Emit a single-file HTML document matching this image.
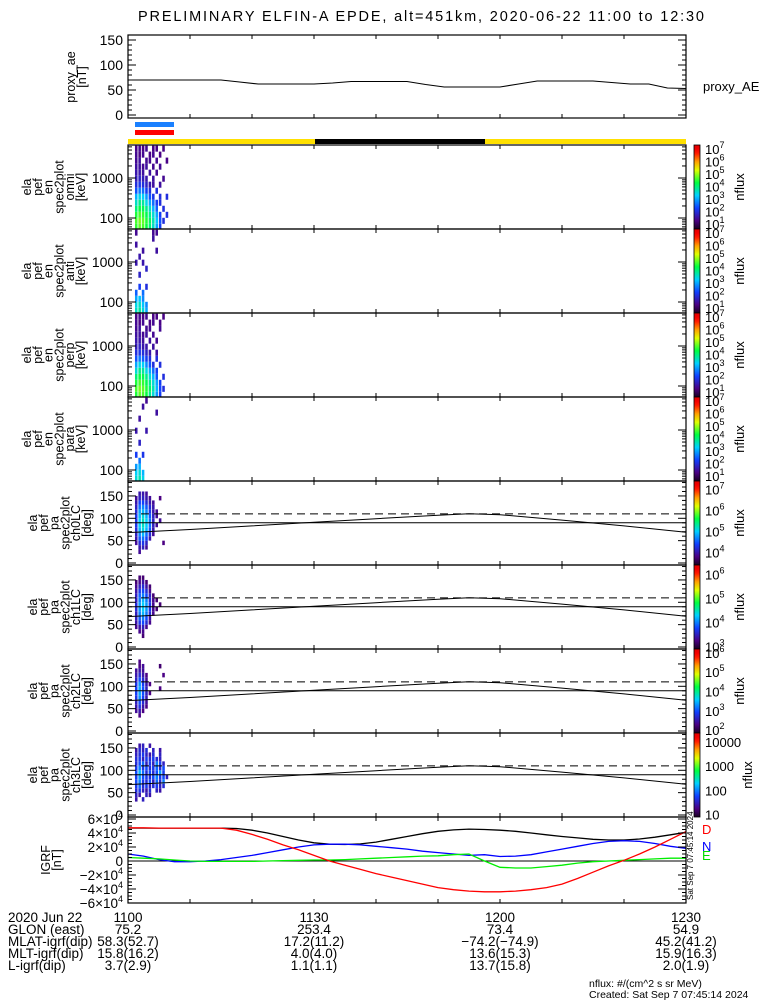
<!DOCTYPE html>
<html><head><meta charset="utf-8"><style>
html,body{margin:0;padding:0;background:#fff;}
svg{display:block;font-family:"Liberation Sans",sans-serif;}
</style></head><body>
<svg id="root" width="775" height="1000" viewBox="0 0 775 1000" xmlns="http://www.w3.org/2000/svg">
<rect x="0" y="0" width="775" height="1000" fill="#fff"/>
<text x="421" y="21" text-anchor="middle" font-size="14.5" textLength="566" lengthAdjust="spacing">PRELIMINARY ELFIN-A EPDE, alt=451km, 2020-06-22 11:00 to 12:30</text>
<rect x="135" y="122" width="39" height="5" fill="#1a80ff"/>
<rect x="135" y="130" width="39" height="5" fill="#ff0000"/>
<rect x="128" y="139" width="558" height="5" fill="#ffe000"/>
<rect x="315" y="139" width="170" height="5" fill="#000"/>
<g id="layer"></g>
<g font-size="13.5">
<text x="8" y="922">2020 Jun 22</text>
<text x="8" y="934">GLON (east)</text>
<text x="8" y="946">MLAT-igrf(dip)</text>
<text x="8" y="958">MLT-igrf(dip)</text>
<text x="8" y="970">L-igrf(dip)</text>
<g text-anchor="middle">
<text x="128" y="922">1100</text><text x="314" y="922">1130</text><text x="500" y="922">1200</text><text x="686" y="922">1230</text>
<text x="128" y="934">75.2</text><text x="314" y="934">253.4</text><text x="500" y="934">73.4</text><text x="686" y="934">54.9</text>
<text x="128" y="946">58.3(52.7)</text><text x="314" y="946">17.2(11.2)</text><text x="500" y="946">−74.2(−74.9)</text><text x="686" y="946">45.2(41.2)</text>
<text x="128" y="958">15.8(16.2)</text><text x="314" y="958">4.0(4.0)</text><text x="500" y="958">13.6(15.3)</text><text x="686" y="958">15.9(16.3)</text>
<text x="128" y="970">3.7(2.9)</text><text x="314" y="970">1.1(1.1)</text><text x="500" y="970">13.7(15.8)</text><text x="686" y="970">2.0(1.9)</text>
</g></g>
<text x="589" y="987" font-size="10.5">nflux: #/(cm^2 s sr MeV)</text>
<text x="589" y="998" font-size="10.5">Created: Sat Sep  7 07:45:14 2024</text>
<text transform="translate(693,900) rotate(-90)" font-size="8">Sat Sep  7 07:45:14 2024</text>
<text x="702" y="834" font-size="13" fill="#ff0000">D</text>
<text x="702" y="851" font-size="13" fill="#0000ff">N</text>
<text x="702" y="860" font-size="13" fill="#00dd00">E</text>
<text x="703" y="91" font-size="13">proxy_AE</text>
</svg>
<script>
// ---------- data ----------
const aeTimes=[0,15,18,21,30,33,36,45,48,51,60,63,66,75,78,81,84,87,90];
const aeValues=[70,70,66,62,62,64,67,67,61,56,56,62,68,68,65,62,62,54,53];
const specTimes=[1.4,1.95,2.5,3.05,3.6,4.15,4.7,5.25,5.8,6.35];
const energies=[60,85,120,170,240,340,480,680,960,1360,1920,2720,3840,5420];
const omniFlux=[
[4.5,4.7,4.6,4.3,4.0,3.6,3.0,2.2,0,0],[4.6,4.8,4.7,4.4,4.1,3.7,3.2,2.4,2.0,0],[4.4,4.6,4.5,4.2,3.9,3.5,3.0,2.2,0,2.0],
[4.0,4.3,4.2,3.9,3.6,3.1,2.5,0,2.0,0],[3.6,3.9,3.8,3.4,3.0,2.6,2.2,2.0,0,0],[3.1,3.4,3.3,2.9,2.4,2.1,0,2.0,0,2.0],
[2.4,2.7,2.6,2.2,2.0,0,2.0,0,0,0],[2.0,2.1,2.0,1.8,1.6,1.5,0,1.5,0,0],[1.7,1.8,1.7,1.6,0,1.5,0,0,1.4,0],
[1.6,1.6,1.5,0,1.5,0,1.4,0,0,0],[1.5,1.5,1.4,1.5,0,1.4,0,1.4,0,0],[1.4,1.5,0,1.4,1.4,0,1.4,0,0,1.3],
[1.4,1.3,1.4,0,1.3,1.4,0,1.3,0,0],[1.3,1.4,1.3,1.4,0,1.3,1.3,0,1.3,0]];
const antFlux=[
[3.6,3.8,3.5,3.0,0,0,0,0,0,0],[3.4,3.6,3.2,2.8,0,0,0,0,0,0],[3.0,3.2,2.8,0,0,0,0,0,0,0],
[2.5,0,2.6,0,0,0,0,0,0,0],[0,2.2,0,2.0,0,0,0,0,0,0],[0,0,0,0,0,0,0,0,0,0],
[0,1.8,0,0,0,0,0,0,0,0],[0,0,0,1.8,0,0,0,0,0,0],[1.6,0,1.6,0,0,0,0,0,0,0],
[0,1.6,0,0,0,0,0,0,0,0],[0,0,1.5,0,0,0,1.5,0,0,0],[1.5,0,0,0,0,0,0,0,0,0],
[0,0,0,0,0,1.5,0,0,0,0],[1.4,0,0,0,0,1.4,1.4,0,0,0]];
const perpFlux=[
[4.4,4.7,4.6,4.3,3.9,3.5,2.9,2.2,0,0],[4.6,4.8,4.7,4.4,4.1,3.7,3.1,2.3,2.0,0],[4.4,4.6,4.5,4.2,3.9,3.5,3.0,2.2,0,0],
[4.0,4.3,4.2,3.9,3.5,3.1,2.4,0,2.0,0],[3.5,3.9,3.8,3.4,3.0,2.6,2.2,0,0,0],[3.0,3.4,3.3,2.8,2.4,2.0,0,2.0,0,0],
[2.4,2.7,2.5,2.2,2.0,0,2.0,0,0,0],[2.0,2.1,2.0,1.8,1.6,0,1.5,0,0,0],[1.7,1.8,1.6,1.6,0,1.5,0,0,0,0],
[1.6,1.6,1.5,0,1.5,0,1.4,0,0,0],[1.5,1.5,1.4,1.5,0,1.4,0,0,0,0],[1.4,1.5,0,1.4,1.4,0,0,1.4,0,0],
[1.4,1.3,1.4,0,1.3,1.4,0,1.3,0,0],[1.3,1.4,1.3,1.4,0,1.3,1.3,0,1.3,0]];
const paraFlux=[
[3.5,3.7,3.4,0,0,0,0,0,0,0],[3.3,3.5,3.1,0,0,0,0,0,0,0],[2.9,3.1,0,0,0,0,0,0,0,0],
[0,2.6,0,0,0,0,0,0,0,0],[2.2,0,2.1,0,0,0,0,0,0,0],[0,0,0,0,0,0,0,0,0,0],
[0,1.8,0,0,0,0,0,0,0,0],[0,0,0,0,0,0,0,0,0,0],[1.6,0,0,1.6,0,0,0,0,0,0],
[0,0,0,0,0,0,0,0,0,0],[0,1.5,0,0,0,0,0,0,0,0],[0,0,0,0,0,0,1.5,0,0,0],
[0,0,1.5,0,0,0,0,0,0,0],[0,0,0,1.4,0,0,0,0,0,0]];
const pitchAngles=[25,35,45,55,65,75,85,95,105,115,125,135,145,155];
const ch0Flux=[
[0,3.9,0,0,0,0,0,0,0,0],[0,4.0,4.1,3.9,0,0,0,0,0,0],[3.9,4.2,4.3,4.1,0,0,0,0,3.8,0],
[4.0,4.5,4.6,4.4,4.0,0,0,0,0,0],[4.1,4.7,4.9,4.6,4.2,3.9,0,0,0,0],[4.2,4.9,5.1,4.9,4.5,4.0,0,0,0,0],
[4.3,5.0,5.2,5.0,4.6,4.1,3.9,0,0,0],[4.3,5.0,5.2,5.0,4.6,4.1,0,3.9,0,0],[4.3,4.9,5.1,4.9,4.5,4.1,3.9,0,0,0],
[4.2,4.8,4.9,4.7,4.3,4.0,3.9,0,0,0],[4.1,4.6,4.7,4.5,4.2,4.0,0,0,0,0],[4.0,4.4,4.4,4.2,4.0,3.9,0,0,0,0],
[3.9,4.1,4.1,4.0,3.9,0,0,3.8,0,0],[0,4.0,4.0,3.9,0,0,0,0,0,0]];
const ch1Flux=[
[0,0,3.2,0,0,0,0,0,0,0],[0,3.3,3.3,0,0,0,0,0,0,0],[3.3,3.4,3.5,3.3,0,0,0,0,0,0],
[3.4,3.7,3.8,3.6,3.3,0,0,0,0,0],[3.5,3.9,4.0,3.8,3.4,0,0,0,0,0],[3.5,4.0,4.2,4.0,3.6,3.3,0,0,0,0],
[3.6,4.1,4.3,4.1,3.7,3.3,3.2,0,0,0],[3.6,4.1,4.3,4.1,3.7,3.3,0,3.2,0,0],[3.5,4.0,4.2,4.0,3.6,3.3,3.2,0,0,0],
[3.5,3.9,4.0,3.8,3.5,3.2,0,0,0,0],[3.4,3.7,3.8,3.6,3.3,0,0,0,0,0],[3.3,3.5,3.6,3.4,3.2,0,0,0,0,0],
[3.2,3.3,3.4,3.2,0,0,0,0,0,0],[0,3.2,3.2,0,0,0,0,0,0,0]];
const ch2Flux=[
[0,0,0,0,0,0,0,0,0,0],[0,2.3,0,0,0,0,0,0,0,0],[2.4,2.5,2.3,0,0,0,0,0,0,0],
[2.5,2.8,2.5,2.3,0,0,0,0,0,0],[2.6,3.0,2.7,2.4,0,0,0,0,0,0],[2.8,3.3,2.9,2.5,0,0,0,0,0,0],
[2.9,3.4,3.0,2.6,2.3,0,0,0,0,0],[2.9,3.4,3.0,2.6,0,0,0,2.3,0,0],[2.8,3.3,2.9,2.5,2.3,0,0,0,0,0],
[2.6,3.0,2.7,2.4,0,0,0,0,0,0],[2.5,2.7,2.5,2.3,0,0,0,0,2.3,0],[2.4,2.5,2.4,0,0,0,0,0,0,0],
[0,2.3,2.4,0,0,0,0,2.2,0,0],[0,2.3,0,0,0,0,0,0,0,0]];
const ch3Flux=[
[0,0,0,0,0,0,0,0,0,0],[1.4,0,1.5,0,0,0,0,0,0,0],[1.5,1.4,0,1.5,1.4,0,0,0,0,0],
[1.6,1.7,1.5,1.4,1.6,0,1.5,1.4,0,0],[1.7,1.9,1.6,1.7,1.5,1.6,1.7,1.5,1.6,0],[1.8,2.0,1.7,1.6,1.8,1.5,1.9,1.6,2.0,0],
[1.7,2.1,1.8,1.7,1.6,1.8,2.0,1.7,1.8,1.5],[1.8,2.2,1.9,1.6,1.8,1.6,1.8,2.1,1.7,0],[1.7,2.0,1.7,1.8,1.6,1.7,1.9,1.6,1.8,0],
[1.6,1.8,1.9,1.5,1.7,1.5,2.0,1.7,1.5,0],[1.6,1.7,1.5,1.7,1.6,1.7,1.6,1.5,0,0],[1.5,1.6,1.7,1.5,1.4,1.6,0,1.5,0,0],
[1.4,1.6,1.5,1.6,0,1.5,0,1.4,0,0],[0,1.4,1.5,0,1.4,0,0,0,0,0]];
const lossConeTimes=[0,10,20,30,40,50,55,60,70,80,90];
const lossConeValues=[68,75,83,91,99,107,110,108,96,83,69];
const antiLossConeValue=110;
const perpValue=90;
const igrfTimes=[0,2.5,5,7.5,10,12.5,15,17.5,20,22.5,25,27.5,30,32.5,35,37.5,40,42.5,45,47.5,50,52.5,55,57.5,60,62.5,65,67.5,70,72.5,75,77.5,80,82.5,85,87.5,90];
const igrfTotal=[47000,47000,47000,47000,47000,47000,47000,46500,44000,40000,35000,30000,26000,24000,23500,24500,27000,31000,35000,39000,42500,44500,45500,45000,44000,42500,40000,37500,35000,33000,31000,30000,30000,31500,34000,37500,41000];
const igrfD=[47500,47500,47000,47000,47000,47000,47000,44000,38000,31000,23000,16000,8000,0,-6000,-12000,-18000,-23000,-28000,-33000,-38000,-41000,-43000,-44000,-44000,-43000,-41000,-38000,-33000,-25000,-16000,-7000,1000,10000,20000,31000,42000];
const igrfN=[10000,7000,2000,-1000,-1000,0,2000,5000,8000,12000,16000,20000,23000,24000,24000,23000,21000,19000,17000,14000,12000,10000,8000,9000,6500,7000,9000,13000,17000,21000,25000,28000,29000,28000,25000,21000,18000];
const igrfE=[5000,4000,3000,1500,0,-500,-500,-500,-500,0,500,1000,1500,1500,2000,3000,4000,5000,6000,7000,7500,9000,10000,0,-9000,-10000,-10000,-8000,-6000,-3000,-1000,0,1000,2000,3000,4000,4000];
const aeTicks=[0,50,100,150];
const energyTicks=[100,1000];
const pitchTicks=[0,50,100,150];
const igrfTicks=[-60000,-40000,-20000,0,20000,40000,60000];

// ---------- geometry ----------
const NS="http://www.w3.org/2000/svg";
const X0=128,X1=686;
const layer=document.getElementById('layer');
function xT(t){return X0+(t/90)*(X1-X0);}
function el(tag,attrs,parent){const e=document.createElementNS(NS,tag);for(const k in attrs)e.setAttribute(k,attrs[k]);(parent||layer).appendChild(e);return e;}
const stops=[[0,[26,0,34]],[0.1,[75,0,130]],[0.25,[16,64,255]],[0.4,[0,208,255]],[0.55,[0,255,64]],[0.7,[224,255,0]],[0.8,[255,160,0]],[0.92,[255,0,0]],[1,[224,0,0]]];
function cmap(f){f=Math.max(0,Math.min(1,f));for(let i=1;i<stops.length;i++){if(f<=stops[i][0]){const a=stops[i-1],b=stops[i];const u=(f-a[0])/(b[0]-a[0]);const c=a[1].map((v,j)=>Math.round(v+(b[1][j]-v)*u));return 'rgb('+c.join(',')+')';}}return 'rgb(224,0,0)';}

function frame(top,bot,name){
  const r=el('rect',{x:X0,y:top,width:X1-X0,height:bot-top,fill:'none',stroke:'#000','stroke-width':1.2});
  
  
  for(let t=10;t<90;t+=10){
    const a=el('line',{x1:xT(t),x2:xT(t),y1:top,y2:top+4,stroke:'#000'});
    
    
    const b=el('line',{x1:xT(t),x2:xT(t),y1:bot,y2:bot-4,stroke:'#000'});
    
    
  }
}
function ytick(y,len){
  const a=el('line',{x1:X0,x2:X0+len,y1:y,y2:y,stroke:'#000'});
  
  
  const b=el('line',{x1:X1,x2:X1-len,y1:y,y2:y,stroke:'#000'});
  
  
}
function ylabel(y,txt,name){
  const t=el('text',{x:123,y:y+5,'text-anchor':'end','font-size':14});
  t.textContent=txt;
  
  
}
function sideTitle(lines,cx,cy,name,x0){
  const t=el('text',{transform:'translate('+x0+','+cy+') rotate(-90)','text-anchor':'middle','font-size':12.5});
  
  
  lines.forEach((s,i)=>{const ts=el('tspan',{x:0,dy:i===0?0:10.8},t);ts.textContent=s;});
}
function colorbar(top,bot,lo,hi,labels,name){
  const id='g'+top;
  const defs=el('defs',{});
  const g=el('linearGradient',{id:id,x1:0,y1:1,x2:0,y2:0},defs);
  for(let i=0;i<=20;i++){el('stop',{offset:i/20,'stop-color':cmap(i/20)},g);}
  const r=el('rect',{x:694,y:top,width:6,height:bot-top,fill:'url(#'+id+')',stroke:'#000','stroke-width':0.8});
  
  
  labels.forEach(lb=>{
    const y=bot-(lb.v-lo)/(hi-lo)*(bot-top);
    const t=el('text',{x:705,y:y+5,'font-size':13});
    
    
    if(lb.sup!==undefined){const a=el('tspan',{},t);a.textContent='10';const b=el('tspan',{dy:-6,'font-size':9},t);b.textContent=lb.sup;}
    else t.textContent=lb.txt;
  });
  const n=el('text',{transform:'translate('+(labels.length&&labels[0].txt?752:744)+','+((top+bot)/2)+') rotate(-90)','text-anchor':'middle','font-size':13});
  n.textContent='nflux';
  
  
}

// ---------- proxy AE ----------
(function(){
  const top=35,bot=118;
  const yA=v=>115-v*0.5;
  let d='';
  aeTimes.forEach((t,i)=>{d+=(i?'L':'M')+xT(t).toFixed(1)+','+yA(aeValues[i]).toFixed(1);});
  const p=el('path',{d:d,fill:'none',stroke:'#000','stroke-width':1.1});
  
  
  frame(top,bot,'proxy-ae-panel');
  for(let v=0;v<=160;v+=10) ytick(yA(v),v%50===0?8:4);
  aeTicks.forEach(v=>ylabel(yA(v),String(v),'proxy-ae-tick-label'));
  sideTitle(['proxy_ae','[nT]'],0,77,'proxy-ae-axis-title',75);
})();

// ---------- energy spectrograms ----------
function energyPanel(top,bot,flux,name,title){
  const yE=e=>bot-11-40*(Math.log10(e)-2);
  const half=(specTimes[1]-specTimes[0])/2;
  const step=Math.log10(energies[1]/energies[0])/2;
  flux.forEach((row,i)=>{row.forEach((v,j)=>{
    if(!v) return;
    const x=xT(specTimes[j]-half), w=xT(specTimes[j]+half)-x;
    const y1=yE(energies[i]*Math.pow(10,step)), y2=yE(energies[i]/Math.pow(10,step));
    const yt=Math.max(top,y1), yb=Math.min(bot,y2);
    if(yb<=yt) return;
    const r=el('rect',{x:x.toFixed(2),y:yt.toFixed(2),width:(w*0.75).toFixed(2),height:(yb-yt).toFixed(2),fill:cmap((v-0.6)/(7.3-0.6))});
    
    
  });});
  frame(top,bot,name);
  for(let dec=10;dec<=10000;dec*=10){for(let k=1;k<10;k++){const e=dec*k;const y=yE(e);if(y>top&&y<bot) ytick(y,k===1?8:4);}}
  energyTicks.forEach(e=>ylabel(yE(e),String(e),name+'-tick-label'));
  sideTitle(['ela','pef','en','spec2plot',title,'[keV]'],0,(top+bot)/2,name+'-axis-title',31);
  const lab=[7,6,5,4,3,2,1].map(s=>({v:s,sup:String(s)}));
  colorbar(top,bot,0.6,7.3,lab,name);
}
energyPanel(145,229,omniFlux,'omni-spectrogram','omni');
energyPanel(229,313,antFlux,'anti-spectrogram','anti');
energyPanel(313,397,perpFlux,'perp-spectrogram','perp');
energyPanel(397,481,paraFlux,'para-spectrogram','para');

// ---------- pitch angle spectrograms ----------
function pitchPanel(top,bot,flux,name,title,lo,hi,labels){
  const yP=p=>bot-2-p*0.447;
  const half=(specTimes[1]-specTimes[0])/2;
  flux.forEach((row,i)=>{row.forEach((v,j)=>{
    if(!v) return;
    const x=xT(specTimes[j]-half), w=xT(specTimes[j]+half)-x;
    const y1=yP(pitchAngles[i]+5), y2=yP(pitchAngles[i]-5);
    const r=el('rect',{x:x.toFixed(2),y:y1.toFixed(2),width:(w*0.75).toFixed(2),height:(y2-y1).toFixed(2),fill:cmap((v-lo)/(hi-lo))});
    
    
  });});
  const l1=el('line',{x1:X0,x2:X1,y1:yP(perpValue),y2:yP(perpValue),stroke:'#000'});
  
  
  const l2=el('line',{x1:X0,x2:X1,y1:yP(antiLossConeValue),y2:yP(antiLossConeValue),stroke:'#000','stroke-dasharray':'8,5'});
  
  
  let d='';
  lossConeTimes.forEach((t,i)=>{d+=(i?'L':'M')+xT(t).toFixed(1)+','+yP(lossConeValues[i]).toFixed(1);});
  const lc=el('path',{d:d,fill:'none',stroke:'#000','stroke-width':1});
  
  
  frame(top,bot,name);
  for(let p=0;p<=180;p+=10){const y=yP(p);if(y>top&&y<bot) ytick(y,p%50===0?8:4);}
  pitchTicks.forEach(p=>ylabel(yP(p),String(p),name+'-tick-label'));
  sideTitle(['ela','pef','pa','spec2plot',title,'[deg]'],0,(top+bot)/2,name+'-axis-title',37);
  colorbar(top,bot,lo,hi,labels,name);
}
pitchPanel(481,565,ch0Flux,'ch0lc-spectrogram','ch0LC',3.4,7.4,[7,6,5,4].map(s=>({v:s,sup:String(s)})));
pitchPanel(565,649,ch1Flux,'ch1lc-spectrogram','ch1LC',2.9,6.4,[6,5,4,3].map(s=>({v:s,sup:String(s)})));
pitchPanel(649,733,ch2Flux,'ch2lc-spectrogram','ch2LC',1.85,6.2,[6,5,4,3,2].map(s=>({v:s,sup:String(s)})));
pitchPanel(733,817,ch3Flux,'ch3lc-spectrogram','ch3LC',0.9,4.37,[{v:4,txt:'10000'},{v:3,txt:'1000'},{v:2,txt:'100'},{v:1,txt:'10'}]);

// ---------- IGRF ----------
(function(){
  const top=817,bot=903;
  const yG=v=>861-v*0.0007;
  const z=el('line',{x1:X0,x2:X1,y1:yG(0),y2:yG(0),stroke:'#000'});
  
  
  function line(vals,color,name){
    let d='';
    igrfTimes.forEach((t,i)=>{
      d+=(i?'L':'M')+xT(t).toFixed(1)+','+yG(vals[i]).toFixed(1);
    });
    const p=el('path',{d:d,fill:'none',stroke:color,'stroke-width':1.3});
    
    
  }
  line(igrfTotal,'#000','igrf-total-line');
  line(igrfN,'#0000ff','igrf-n-line');
  line(igrfE,'#00ee00','igrf-e-line');
  line(igrfD,'#ff0000','igrf-d-line');
  frame(top,bot,'igrf-panel');
  for(let v=-60000;v<=60000;v+=5000) ytick(yG(v),v%20000===0?8:4);
  igrfTicks.forEach(v=>{
    const t=el('text',{x:123,y:yG(v)+5,'text-anchor':'end','font-size':13.5});
    
    
    if(v===0){t.textContent='0';return;}
    const m=Math.abs(v)/10000;
    const a=el('tspan',{},t);a.textContent=(v<0?'−':'')+m+'×10';
    const b=el('tspan',{dy:-6,'font-size':9},t);b.textContent='4';
  });
  sideTitle(['IGRF','[nT]'],0,860,'igrf-axis-title',50);
})();
</script>
</body></html>
